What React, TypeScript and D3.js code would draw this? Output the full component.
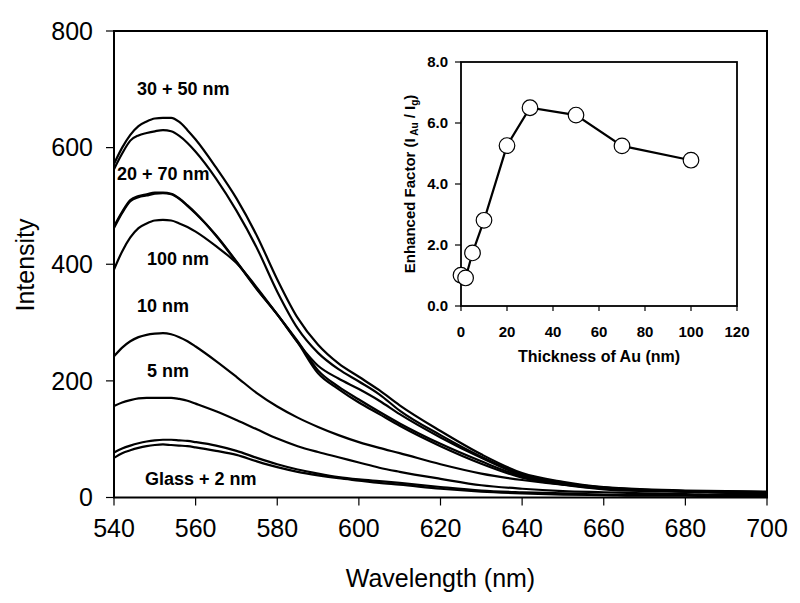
import React from 'react';
import * as d3 from 'd3';

// ---------- Data ----------
const wavelengths = [540, 542, 544, 546, 548, 550, 552, 554, 556, 558, 560, 565, 570, 575, 580, 585, 590, 595, 600, 605, 610, 620, 630, 640, 650, 660, 670, 680, 690, 700];

const au30 = [572, 600, 622, 637, 645, 650, 651, 651, 644, 630, 614, 566, 513, 449, 374, 308, 262, 230, 207, 184, 158, 114, 74, 42, 27, 18, 14, 12, 11, 10];
const au50 = [563, 590, 612, 621, 625, 628, 630, 628, 620, 608, 593, 547, 492, 428, 353, 290, 248, 220, 199, 177, 149, 107, 70, 40, 25, 17, 13, 11, 10, 9];
const au70 = [465, 490, 510, 517, 520, 523, 523, 521, 513, 501, 488, 449, 404, 357, 314, 266, 226, 204, 186, 166, 143, 103, 68, 38, 24, 16, 12, 11, 10, 9];
const au20 = [462, 488, 508, 515, 518, 521, 522, 520, 512, 500, 487, 450, 405, 358, 314, 268, 218, 190, 168, 147, 127, 92, 62, 36, 23, 15, 12, 10, 9, 8];
const au100 = [391, 422, 446, 462, 470, 475, 476, 475, 470, 464, 456, 431, 402, 360, 314, 266, 213, 186, 163, 143, 123, 88, 58, 34, 22, 14, 11, 10, 9, 8];
const au10 = [242, 257, 268, 275, 279, 281, 282, 280, 275, 268, 259, 234, 207, 179, 156, 137, 121, 107, 95, 85, 76, 57, 41, 30, 22, 17, 13, 10, 8, 7];
const au5 = [157, 163, 167, 170, 171, 171, 171, 171, 169, 166, 161, 148, 133, 117, 101, 88, 78, 69, 60, 51, 44, 32, 21, 15, 11, 9, 7, 6, 5, 5];
const glass = [77, 84, 89, 93, 96, 98, 99, 99, 98, 97, 95, 89, 80, 68, 57, 48, 41, 35, 31, 28, 25, 18, 12, 9, 7, 5, 4, 4, 3, 3];
const au2 = [68, 76, 81, 85, 88, 90, 91, 90, 89, 88, 86, 80, 73, 62, 52, 44, 38, 33, 29, 25, 22, 15, 10, 7, 5, 4, 3, 3, 2, 2];

const spectra = [au30, au50, au70, au20, au100, au10, au5, glass, au2];

const curveLabels = ['30 + 50 nm', '20 + 70 nm', '100 nm', '10 nm', '5 nm', 'Glass + 2 nm'];

const mainXTicks = [540, 560, 580, 600, 620, 640, 660, 680, 700];
const mainYTicks = [0, 200, 400, 600, 800];

const insetThickness = [0, 2, 5, 10, 20, 30, 50, 70, 100];
const insetFactor = [1.01, 0.92, 1.74, 2.81, 5.26, 6.5, 6.26, 5.25, 4.78];
const insetXTicks = [0, 20, 40, 60, 80, 100, 120];
const insetYTicks = [0, 2, 4, 6, 8];

// ---------- Layout ----------
const W = 800;
const H = 603;
const FONT = "Arial, 'Liberation Sans', Helvetica, sans-serif";
const labelPos: [number, number][] = [
  [137, 95],
  [117, 180],
  [147, 265],
  [137, 312],
  [147, 377],
  [145, 485],
];

export default function App() {
  const x = d3.scaleLinear().domain([540, 700]).range([114, 767]);
  const y = d3.scaleLinear().domain([0, 800]).range([497.5, 31]);

  const ix = d3.scaleLinear().domain([0, 120]).range([461, 737]);
  const iy = d3.scaleLinear().domain([0, 8]).range([306, 62]);

  const line = d3
    .line<number>()
    .x((_, i) => x(wavelengths[i]))
    .y((d) => y(d))
    .curve(d3.curveMonotoneX);

  const insetLine = d3
    .line<number>()
    .x((_, i) => ix(insetThickness[i]))
    .y((d) => iy(d));

  const [x0, x1] = x.range();
  const [y0, y1] = y.range();
  const [ix0, ix1] = ix.range();
  const [iy0, iy1] = iy.range();

  return (
    <svg
      width={W}
      height={H}
      viewBox={`0 0 ${W} ${H}`}
      style={{ position: 'absolute', left: 0, top: 0, background: '#fff' }}
      fontFamily={FONT}
    >
      <rect x={0} y={0} width={W} height={H} fill="#fff" />

      {/* spectra */}
      <g fill="none" stroke="#000" strokeWidth={2.2} strokeLinejoin="round">
        {spectra.map((s, i) => (
          <path key={i} d={line(s) || ''} />
        ))}
      </g>

      {/* main frame */}
      <g stroke="#000" strokeWidth={2} fill="none">
        <rect x={x0} y={y1} width={x1 - x0} height={y0 - y1} />
      </g>

      {/* main ticks */}
      <g stroke="#000" strokeWidth={1.2}>
        {mainYTicks.map((t) => (
          <line key={'yt' + t} x1={x0 - 8} x2={x0} y1={y(t)} y2={y(t)} />
        ))}
        {mainXTicks.map((t) => (
          <line key={'xt' + t} x1={x(t)} x2={x(t)} y1={y0} y2={y0 + 8} />
        ))}
      </g>
      <g fontSize={25} fill="#000">
        {mainYTicks.map((t) => (
          <text key={'yl' + t} x={93} y={y(t)} dy="0.35em" textAnchor="end">
            {t}
          </text>
        ))}
        {mainXTicks.map((t) => (
          <text key={'xl' + t} x={x(t)} y={537} textAnchor="middle">
            {t}
          </text>
        ))}
        <text x={(x0 + x1) / 2} y={587} textAnchor="middle">
          Wavelength (nm)
        </text>
        <text transform="translate(34,265) rotate(-90)" textAnchor="middle">
          Intensity
        </text>
      </g>

      {/* curve labels */}
      <g fontSize={18} fontWeight="bold" fill="#000">
        {curveLabels.map((l, i) => (
          <text key={l} x={labelPos[i][0]} y={labelPos[i][1]}>
            {l}
          </text>
        ))}
      </g>

      {/* inset */}
      <g>
        <rect x={ix0} y={iy1} width={ix1 - ix0} height={iy0 - iy1} fill="#fff" stroke="#000" strokeWidth={1.8} />
        <g stroke="#000" strokeWidth={1.2}>
          {insetYTicks.map((t) => (
            <line key={'iyt' + t} x1={ix0 - 6} x2={ix0} y1={iy(t)} y2={iy(t)} />
          ))}
          {insetXTicks.map((t) => (
            <line key={'ixt' + t} x1={ix(t)} x2={ix(t)} y1={iy0} y2={iy0 + 5} />
          ))}
        </g>
        <path d={insetLine(insetFactor) || ''} fill="none" stroke="#000" strokeWidth={2.2} />
        {insetFactor.map((v, i) => (
          <circle key={'c' + i} cx={ix(insetThickness[i])} cy={iy(v)} r={7.8} fill="#fff" stroke="#000" strokeWidth={1.2} />
        ))}
        <g fontSize={15} fontWeight="bold" fill="#000">
          {insetYTicks.map((t) => (
            <text key={'iyl' + t} x={448} y={iy(t)} dy="0.35em" textAnchor="end">
              {t.toFixed(1)}
            </text>
          ))}
          {insetXTicks.map((t) => (
            <text key={'ixl' + t} x={ix(t)} y={337} textAnchor="middle">
              {t}
            </text>
          ))}
          <text x={(ix0 + ix1) / 2} y={362} textAnchor="middle" fontSize={16}>
            Thickness of Au (nm)
          </text>
          <text transform={`translate(415,${(iy0 + iy1) / 2}) rotate(-90)`} textAnchor="middle">
            Enhanced Factor (I
            <tspan fontSize={10} dy={3}> Au</tspan>
            <tspan dy={-3}> / I</tspan>
            <tspan fontSize={10} dy={3}>g</tspan>
            <tspan dy={-3}>)</tspan>
          </text>
        </g>
      </g>
    </svg>
  );
}
